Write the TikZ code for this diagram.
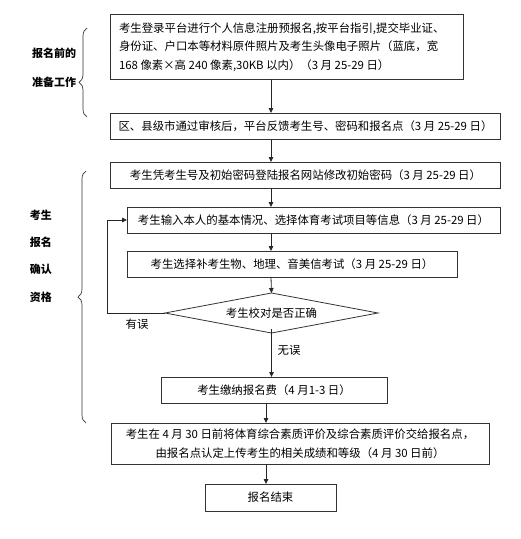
\documentclass[tikz,border=0pt]{standalone}
\usepackage{fontspec}
\setmainfont{Noto Sans CJK SC}
\usetikzlibrary{arrows.meta,shapes.geometric,decorations.pathreplacing}
\begin{document}
\begin{tikzpicture}[x=1pt,y=-1pt,
  every node/.style={inner sep=0pt,outer sep=0pt,font=\fontsize{11.4}{18.5}\selectfont,text=black},
  box/.style={draw=black!80,line width=0.8pt,rectangle},
  dia/.style={draw=black!80,line width=0.8pt,diamond,aspect=5.3},
  arr/.style={draw=black!85,line width=0.8pt,-{Triangle[length=5pt,width=4.5pt]}},
  brc/.style={draw=black!80,line width=0.7pt,decorate,decoration={brace,amplitude=8pt}},
  lbl/.style={font=\fontsize{11}{14}\selectfont\bfseries}]
\useasboundingbox (0,0) rectangle (521,539);
\coordinate (ax) at (271,0);
\coordinate (bx) at (266,0);
\node[box,minimum width=353pt,minimum height=65pt] (b1) at (286.5,46.5) {};
\node[anchor=west,align=left] (t1) at (119,47) {考生登录平台进行个人信息注册预报名,按平台指引,提交毕业证、\\身份证、户口本等材料原件照片及考生头像电子照片（蓝底，宽\\168 像素×高 240 像素,30KB 以内）（3 月 25-29 日）};
\node[box,minimum width=390pt,minimum height=26pt] (b2) at (305.5,126) {区、县级市通过审核后，平台反馈考生号、密码和报名点（3 月 25-29 日）};
\node[box,minimum width=390pt,minimum height=26pt] (b3) at (305.5,175) {考生凭考生号及初始密码登陆报名网站修改初始密码（3 月 25-29 日）};
\node[box,minimum width=373pt,minimum height=26pt] (b4) at (313.5,220) {考生输入本人的基本情况、选择体育考试项目等信息（3 月 25-29 日）};
\node[box,minimum width=330pt,minimum height=26pt] (b5) at (292,264) {考生选择补考生物、地理、音美信考试（3 月 25-29 日）};
\node[dia,minimum width=213pt,minimum height=40pt] (d) at (271.5,313) {};
\node (dt) at (271.5,313) {考生校对是否正确};
\node[box,minimum width=226pt,minimum height=26pt] (b6) at (274,390) {考生缴纳报名费（4 月1-3 日）};
\node[box,minimum width=378pt,minimum height=41pt,align=center] (b7) at (300,443.5) {考生在 4 月 30 日前将体育综合素质评价及综合素质评价交给报名点，\\由报名点认定上传考生的相关成绩和等级（4 月 30 日前）};
\node[box,minimum width=131pt,minimum height=27pt] (b8) at (270.5,497.5) {报名结束};
\node (l1) at (137,324) {有误};
\node (l2) at (289,350) {无误};
\node[lbl] (g1a) at (54,53) {报名前的};
\node[lbl] (g1b) at (54,82) {准备工作};
\node[lbl] (g2a) at (41,215) {考生};
\node[lbl] (g2b) at (41,242) {报名};
\node[lbl] (g2c) at (41,269) {确认};
\node[lbl] (g2d) at (41,297) {资格};
\coordinate (br1s) at (87,117);
\coordinate (br1e) at (87,28);
\coordinate (br2s) at (86,423);
\coordinate (br2e) at (86,171);
\draw[brc,decoration={aspect=0.39}] (br1s) -- (br1e);
\draw[brc,decoration={aspect=0.5}] (br2s) -- (br2e);
\draw[arr] (b1.south -| ax) -- (b2.north -| ax);
\draw[arr] (b2.south -| ax) -- (b3.north -| ax);
\draw[arr] (b3.south -| ax) -- (b4.north -| ax);
\draw[arr] (b4.south -| ax) -- (b5.north -| ax);
\draw[arr] (b5.south -| ax) -- (d.north);
\draw[arr] ([yshift=4pt]d.south) -- (b6.north -| d.south);
\draw[arr] (b6.south -| bx) -- (b7.north -| bx);
\draw[arr] (b7.south -| bx) -- (b8.north -| bx);
\draw[arr] (d.west) -- ++(-58,0) |- (b4.west);
\end{tikzpicture}
\end{document}
